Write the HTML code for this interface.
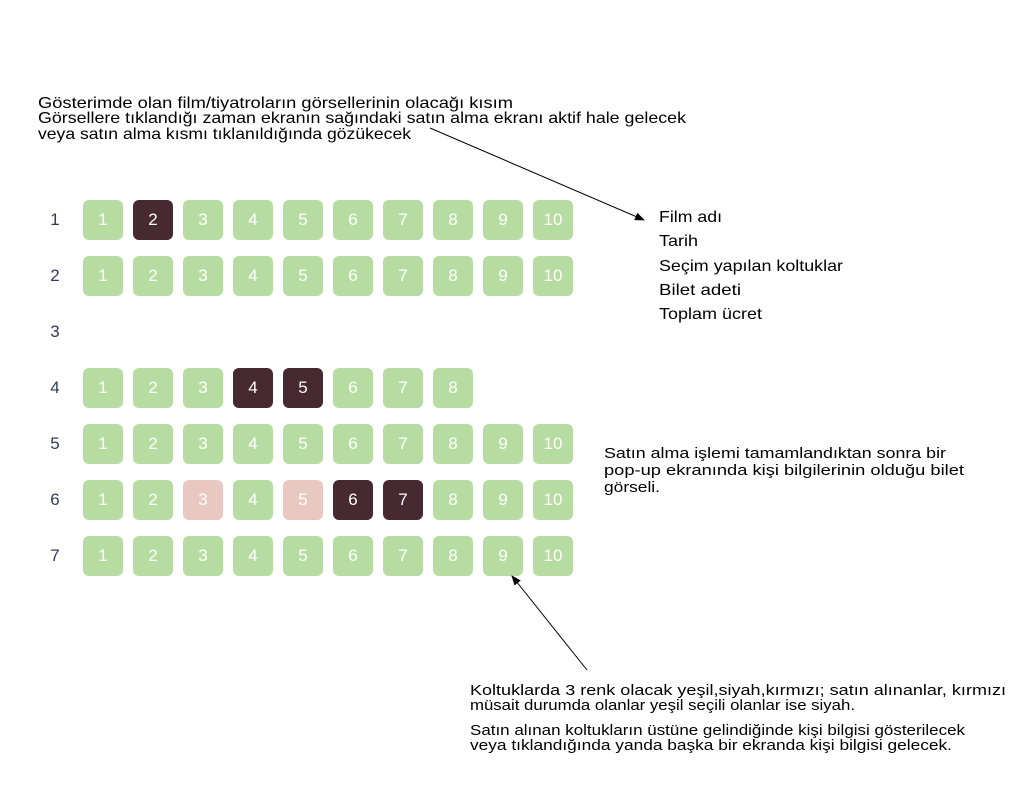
<!DOCTYPE html>
<html><head><meta charset="utf-8"><style>
html,body{margin:0;padding:0;background:#fff;}
body{width:1024px;height:786px;position:relative;overflow:hidden;font-family:"Liberation Sans",Arial,sans-serif;}
.s{position:absolute;width:40px;height:40px;border-radius:6px;background:#b6dca2;color:#fff;font-size:17px;line-height:40px;text-align:center;}
.d{background:#472a31;}
.p{background:#e9c8c2;}
.r{position:absolute;left:47px;width:16px;text-align:center;font-size:17px;color:#333a55;line-height:40px;}
svg{position:absolute;left:0;top:0;}
</style></head><body>
<div id="seats"></div>
<script>
var rows=[[1,10,{2:'d'}],[2,10,{}],[3,0,{}],[4,8,{4:'d',5:'d'}],[5,10,{}],[6,10,{3:'p',5:'p',6:'d',7:'d'}],[7,10,{}]];
var h='';
rows.forEach(function(r,i){var y=200+i*56;h+='<div class="r" style="top:'+y+'px">'+r[0]+'</div>';
for(var k=1;k<=r[1];k++){h+='<div class="s '+(r[2][k]||'')+'" style="left:'+(83+(k-1)*50)+'px;top:'+y+'px">'+k+'</div>';}});
document.getElementById('seats').innerHTML=h;
</script>
<svg width="1024" height="786" font-family="Liberation Sans, Arial, sans-serif" fill="#000">
<defs><marker id="a" markerWidth="10" markerHeight="8" refX="9" refY="4" orient="auto" markerUnits="userSpaceOnUse"><path d="M0,0 L10,4 L0,8 z" fill="#000"/></marker></defs>
<line x1="430" y1="128" x2="644" y2="220" stroke="#000" stroke-width="1" marker-end="url(#a)"/>
<line x1="587" y1="670" x2="512" y2="576" stroke="#000" stroke-width="1" marker-end="url(#a)"/>
<g font-size="16" lengthAdjust="spacingAndGlyphs">
<text x="38" y="108" textLength="475" lengthAdjust="spacingAndGlyphs">Gösterimde olan film/tiyatroların görsellerinin olacağı kısım</text>
<text x="38" y="123" textLength="648" lengthAdjust="spacingAndGlyphs">Görsellere tıklandığı zaman ekranın sağındaki satın alma ekranı aktif hale gelecek</text>
<text x="38" y="139" textLength="373" lengthAdjust="spacingAndGlyphs">veya satın alma kısmı tıklanıldığında gözükecek</text>
</g>
<g font-size="16">
<text x="659" y="222" textLength="63" lengthAdjust="spacingAndGlyphs">Film adı</text>
<text x="659" y="246" textLength="39" lengthAdjust="spacingAndGlyphs">Tarih</text>
<text x="659" y="271" textLength="184" lengthAdjust="spacingAndGlyphs">Seçim yapılan koltuklar</text>
<text x="659" y="295" textLength="82" lengthAdjust="spacingAndGlyphs">Bilet adeti</text>
<text x="659" y="319" textLength="103" lengthAdjust="spacingAndGlyphs">Toplam ücret</text>
</g>
<g font-size="15">
<text x="604" y="458" textLength="342" lengthAdjust="spacingAndGlyphs">Satın alma işlemi tamamlandıktan sonra bir</text>
<text x="604" y="475" textLength="360" lengthAdjust="spacingAndGlyphs">pop-up ekranında kişi bilgilerinin olduğu bilet</text>
<text x="604" y="492" textLength="56" lengthAdjust="spacingAndGlyphs">görseli.</text>
</g>
<g font-size="15">
<text x="470" y="695" textLength="536" lengthAdjust="spacingAndGlyphs">Koltuklarda 3 renk olacak yeşil,siyah,kırmızı; satın alınanlar, kırmızı</text>
<text x="470" y="710" textLength="385" lengthAdjust="spacingAndGlyphs">müsait durumda olanlar yeşil seçili olanlar ise siyah.</text>
<text x="470" y="735" textLength="495" lengthAdjust="spacingAndGlyphs">Satın alınan koltukların üstüne gelindiğinde kişi bilgisi gösterilecek</text>
<text x="470" y="750" textLength="482" lengthAdjust="spacingAndGlyphs">veya tıklandığında yanda başka bir ekranda kişi bilgisi gelecek.</text>
</g>
</svg>
</body></html>
